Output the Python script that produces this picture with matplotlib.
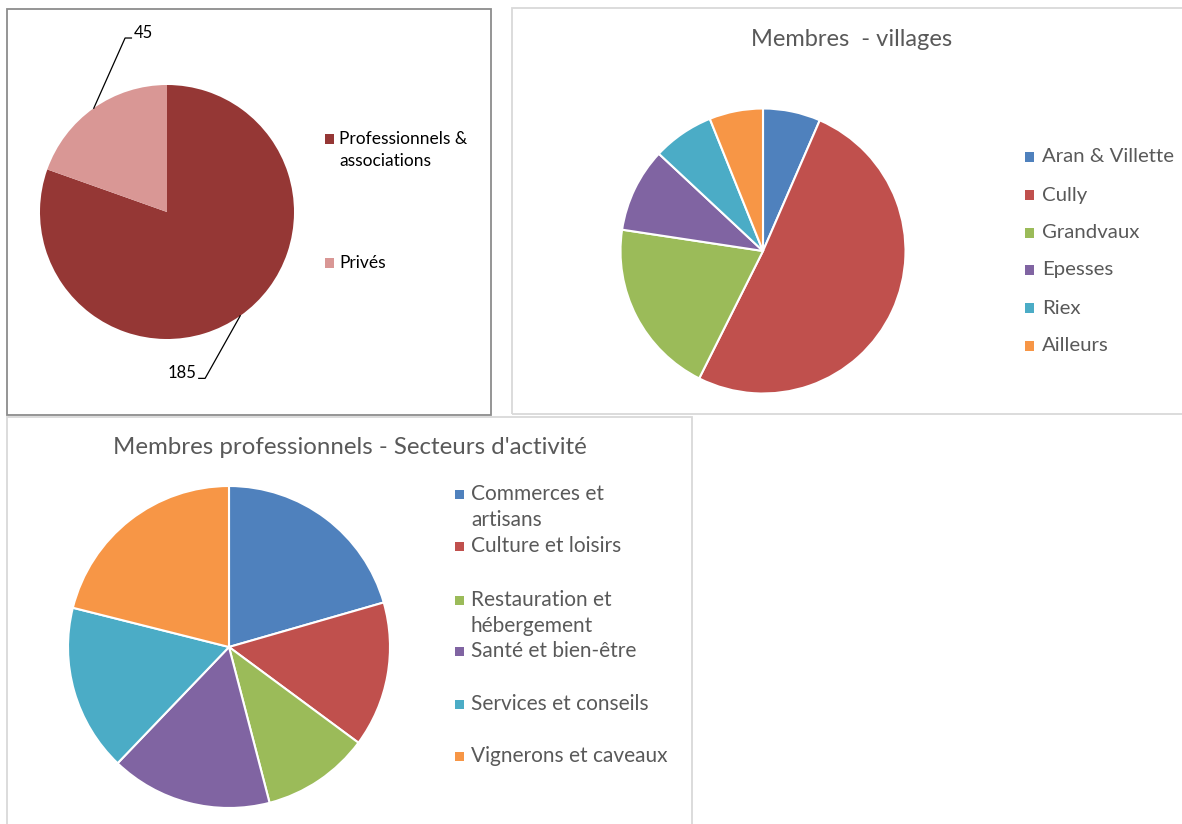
import numpy as np
import matplotlib
matplotlib.use("Agg")
import matplotlib.pyplot as plt
from matplotlib.patches import Rectangle

# data
membres_labels = ["Professionnels &\nassociations", "Privés"]
membres_values = [185, 45]
membres_colors = ["#953735", "#D99795"]

village_labels = ["Aran & Villette", "Cully", "Grandvaux", "Epesses", "Riex", "Ailleurs"]
village_values = [15, 117, 46, 22, 16, 14]

secteur_labels = ["Commerces et\nartisans", "Culture et loisirs", "Restauration et\nhébergement",
                  "Santé et bien-être", "Services et conseils", "Vignerons et caveaux"]
secteur_values = [38, 27, 20, 30, 31, 39]

office_colors = ["#4F81BD", "#C0504D", "#9BBB59", "#8064A2", "#4BACC6", "#F79646"]

W, H = 1182, 824
plt.rcParams['font.family'] = ['Lato', 'DejaVu Sans']
fig = plt.figure(figsize=(W / 100, H / 100), dpi=100)


def fx(x):
    return x / W


def fy(y):
    return 1 - y / H


def frame(x0, y0, x1, y1, color):
    fig.add_artist(Rectangle((fx(x0), fy(y1)), fx(x1) - fx(x0), fy(y0) - fy(y1),
                             transform=fig.transFigure, fill=False, ec=color, lw=1.3))


def pie_axes(cx, cy, r):
    ax = fig.add_axes([fx(cx - 1.25 * r), fy(cy + 1.25 * r), 2.5 * r / W, 2.5 * r / H])
    return ax


def legend(xsq, xtxt, ys, labels, colors, size, tcolor, lh):
    for y, lab, c in zip(ys, labels, colors):
        fig.add_artist(Rectangle((fx(xsq - 4.5), fy(y + 4.5)), 9 / W, 9 / H,
                                 transform=fig.transFigure, color=c, lw=0))
        for i, line in enumerate(lab.split("\n")):
            fig.text(fx(xtxt), fy(y + i * lh), line, fontsize=size, color=tcolor,
                     va='center', ha='left')


# panel borders
frame(7, 9, 491, 415, "#8c8c8c")
frame(512, 8, 1190, 414, "#d9d9d9")
frame(7, 417, 692, 830, "#d9d9d9")

# pie 1 : membres
ax1 = pie_axes(167, 212, 127)
w1, _ = ax1.pie(membres_values, colors=membres_colors, startangle=90, counterclock=False,
                wedgeprops=dict(lw=0))
ax1.set_xlim(-1.25, 1.25)
ax1.set_ylim(-1.25, 1.25)
ax1.set_aspect('equal')
ax1.axis('off')

# leader lines and values
offsets = [(0.30, -1.31, -0.05), (-0.33, 1.37, 0.05)]
for wedge, val, (bx, by, tick) in zip(w1, membres_values, offsets):
    mid = np.deg2rad((wedge.theta1 + wedge.theta2) / 2)
    px, py = np.cos(mid), np.sin(mid)
    ax1.plot([px, bx, bx + tick], [py, by, by], color="black", lw=0.9, clip_on=False)
    ax1.text(bx + tick * 1.3, by + 0.04, str(val), fontsize=12, color="black",
             ha='left' if tick > 0 else 'right', va='center')

legend(329, 339, [139, 263], membres_labels, membres_colors, 12.5, "black", 22)

# pie 2 : villages
ax2 = pie_axes(763, 251, 142.5)
ax2.pie(village_values, colors=office_colors, startangle=90, counterclock=False,
        wedgeprops=dict(edgecolor="white", lw=1.5))
ax2.set_xlim(-1.25, 1.25)
ax2.set_ylim(-1.25, 1.25)
ax2.set_aspect('equal')
ax2.axis('off')
fig.text(fx(852), fy(40), "Membres  - villages", fontsize=17, color="#595959",
         ha='center', va='center')
legend(1029, 1042, [157, 195, 233, 270, 308, 346], village_labels, office_colors, 14.7,
       "#595959", 26)

# pie 3 : secteurs
ax3 = pie_axes(229, 647, 161)
ax3.pie(secteur_values, colors=office_colors, startangle=90, counterclock=False,
        wedgeprops=dict(edgecolor="white", lw=1.5))
ax3.set_xlim(-1.25, 1.25)
ax3.set_ylim(-1.25, 1.25)
ax3.set_aspect('equal')
ax3.axis('off')
fig.text(fx(350), fy(447), "Membres professionnels - Secteurs d'activité", fontsize=17.3,
         color="#595959", ha='center', va='center')
legend(459, 471, [494, 546, 600, 651, 704, 756], secteur_labels, office_colors, 15,
       "#595959", 26.5)

fig.savefig("out.png", dpi=100)
